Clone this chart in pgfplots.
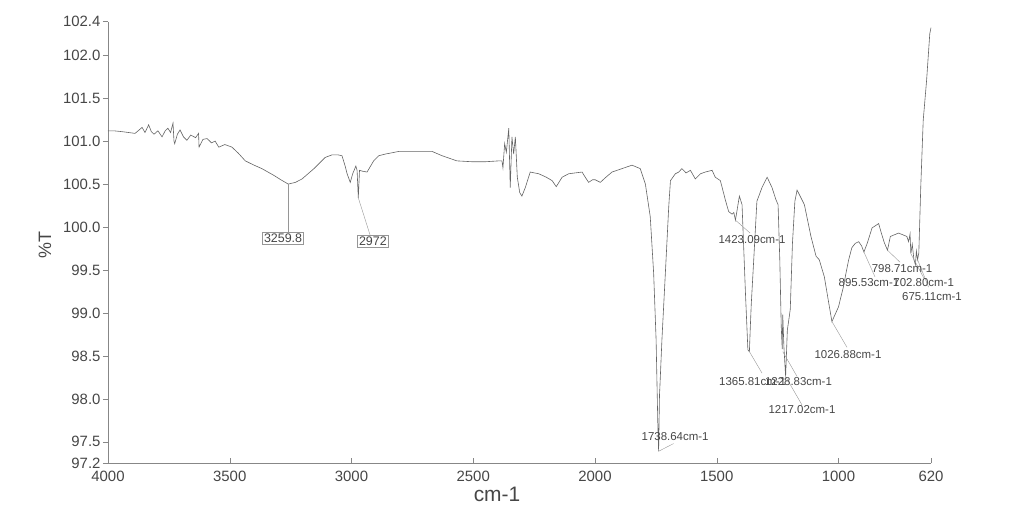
\documentclass[border=0pt]{standalone}
\usepackage{fontspec}
\setmainfont{Liberation Sans}
\usepackage{pgfplots}
\pgfplotsset{compat=1.18}
\definecolor{axisgray}{RGB}{135,135,135}
\definecolor{textgray}{RGB}{70,70,70}
\definecolor{specgray}{RGB}{100,100,100}
\definecolor{leadgray}{RGB}{150,150,150}

\begin{document}
\begin{tikzpicture}
\begin{axis}[
    at={(0,0)}, anchor=south west,
    scale only axis, width=823bp, height=441.6bp,
    x dir=reverse,
    xmin=620, xmax=4000, ymin=97.25, ymax=102.39,
    clip=false,
    axis line style={draw=none},
    xtick={4000,3500,3000,2500,2000,1500,1000,620},
    xticklabels={4000,3500,3000,2500,2000,1500,1000,620},
    ytick={97.25,97.5,98,98.5,99,99.5,100,100.5,101,101.5,102,102.39},
    yticklabels={97.2,97.5,98.0,98.5,99.0,99.5,100.0,100.5,101.0,101.5,102.0,102.4},
    xtick pos=lower, ytick pos=left,
    x tick style={axisgray, thin}, y tick style={axisgray, thin},
    xtick align=inside, ytick align=outside,
    major tick length=5bp,
    tick label style={font=\fontsize{15}{15}\selectfont, text=textgray},
    xticklabel style={yshift=-4bp},
    yticklabel style={xshift=1bp},
    xlabel={cm-1}, ylabel={\%T},
    xlabel style={at={(axis description cs:0.4727,-0.0702)}, anchor=center,
                  font=\fontsize{21}{21}\selectfont, text=textgray},
    ylabel style={at={(axis description cs:-0.0766,0.494)}, anchor=center,
                  font=\fontsize{18}{18}\selectfont, text=textgray},
]
\draw[axisgray, thin] (axis description cs:0,0) -- (axis description cs:1,0);
\draw[axisgray, thin] (axis description cs:0,0) -- (axis description cs:0,1);

\addplot[specgray, line width=0.6bp, mark=none] coordinates {
(4000,101.12) (3976,101.12) (3942,101.11) (3915,101.10) (3889,101.09) (3872,101.13)
(3860,101.16) (3848,101.10) (3833,101.19) (3822,101.11) (3811,101.08) (3795,101.12)
(3778,101.05) (3765,101.12) (3754,101.15) (3743,101.10) (3733,101.21) (3729,101.00)
(3726,100.97) (3715,101.08) (3704,101.13) (3690,101.05) (3676,101.01) (3660,101.07)
(3640,101.04) (3628,101.09) (3626,100.93) (3610,101.02) (3593,101.03) (3575,100.98)
(3560,101.00) (3545,100.93) (3520,100.96) (3491,100.93) (3465,100.86) (3436,100.77)
(3400,100.72) (3368,100.68) (3318,100.60) (3290,100.55) (3259.8,100.50) (3230,100.52)
(3203,100.56) (3154,100.68) (3108,100.81) (3080,100.84) (3055,100.84) (3039,100.83)
(3025,100.70) (3018,100.62) (3005,100.52) (2995,100.62) (2982,100.71) (2977,100.66)
(2972,100.34) (2967,100.66) (2955,100.65) (2936,100.64) (2909,100.77) (2888,100.83)
(2860,100.85) (2841,100.86) (2806,100.88) (2740,100.88) (2669,100.88) (2628,100.83)
(2567,100.77) (2505,100.76) (2450,100.76) (2395,100.77) (2382,100.77) (2378,100.69)
(2371,100.97) (2364,100.87) (2354,101.15) (2348,100.46) (2341,101.05) (2334,100.85)
(2327,101.05) (2319,100.58) (2309,100.40) (2300,100.36) (2286,100.46) (2266,100.64)
(2231,100.62) (2200,100.58) (2176,100.54) (2159,100.47) (2135,100.58) (2108,100.62)
(2081,100.63) (2053,100.64) (2040,100.58) (2026,100.52) (2010,100.55) (1999,100.55)
(1978,100.52) (1955,100.58) (1930,100.64) (1889,100.68) (1848,100.72) (1814,100.68)
(1793,100.50) (1773,100.12) (1759,99.46) (1749,98.69) (1742,97.72) (1738.64,97.39)
(1735,98.05) (1734,98.10) (1725,98.69) (1711,99.46) (1697,100.24) (1690,100.54)
(1670,100.62) (1656,100.64) (1643,100.68) (1626,100.63) (1608,100.66) (1588,100.56)
(1567,100.62) (1547,100.64) (1519,100.66) (1506,100.58) (1485,100.54) (1465,100.32)
(1451,100.18) (1437,100.15) (1430,100.17) (1423.09,100.08) (1415,100.22) (1407,100.36)
(1396,100.26) (1382,99.23) (1372,98.57) (1365.81,98.55) (1362,98.84) (1358,99.11)
(1348,99.62) (1335,100.30) (1314,100.46) (1293,100.58) (1273,100.46) (1257,100.32)
(1248,100.26) (1241,99.62) (1235,98.84) (1231,98.58) (1228.83,98.98) (1224,98.60)
(1217.02,98.26) (1210,98.80) (1206,98.88) (1198,99.04) (1189,99.81) (1179,100.30)
(1170,100.43) (1154,100.34) (1140,100.26) (1113,99.89) (1092,99.66) (1079,99.62)
(1058,99.42) (1042,99.15) (1026.88,98.90) (1019,98.95) (1000,99.07) (980,99.30)
(970,99.45) (958,99.62) (945,99.76) (931,99.81) (917,99.83) (905,99.78)
(895.53,99.71) (882,99.81) (862,99.99) (835,100.04) (824,99.93) (812,99.82)
(798.71,99.73) (787,99.89) (753,99.93) (719,99.89) (712,99.83) (706,99.92)
(702.8,99.69) (697,99.80) (690,99.62) (684,99.56) (680,99.72) (675.11,99.62)
(670,99.70) (662,100.47) (652,101.24) (638,101.71) (625,102.25) (620,102.32)
};

% peak labels
\begin{scope}[leadgray, thin]
\draw (axis cs:3259.8,100.50) -- (axis cs:3259.8,99.94);
\draw (axis cs:2972,100.34) -- (axis cs:2924,99.91);
\draw (axis cs:1738.64,97.39) -- (axis cs:1677,97.48);
\draw (axis cs:1423.09,100.08) -- (axis cs:1363,99.93);
\draw (axis cs:1365.81,98.55) -- (axis cs:1314,98.30);
\draw (axis cs:1228.83,98.55) -- (axis cs:1170,98.26);
\draw (axis cs:1217.02,98.26) -- (axis cs:1150,97.93);
\draw (axis cs:1026.88,98.90) -- (axis cs:965,98.60);
\draw (axis cs:895.53,99.71) -- (axis cs:850,99.42);
\draw (axis cs:798.71,99.73) -- (axis cs:747,99.59);
\draw (axis cs:702.8,99.69) -- (axis cs:650,99.41);
\draw (axis cs:675.11,99.62) -- (axis cs:630,99.30);
\end{scope}
\begin{scope}[every node/.style={text=textgray, inner sep=1bp, font=\fontsize{11.5}{11.5}\selectfont}]
\node[draw=leadgray, fill=white, anchor=north, inner sep=1.5bp, font=\fontsize{12.5}{12.5}\selectfont] at (axis cs:3281,99.94) {3259.8};
\node[draw=leadgray, fill=white, anchor=north, inner sep=1.5bp, font=\fontsize{12.5}{12.5}\selectfont] at (axis cs:2912,99.91) {2972};
\node at (axis cs:1671,97.56) {1738.64cm-1};
\node at (axis cs:1355,99.85) {1423.09cm-1};
\node[anchor=west] at (axis cs:1495,98.20) {1365.81cm-1};
\node[anchor=east] at (axis cs:1022,98.20) {1228.83cm-1};
\node at (axis cs:1150,97.87) {1217.02cm-1};
\node at (axis cs:961,98.52) {1026.88cm-1};
\node at (axis cs:739,99.52) {798.71cm-1};
\node[anchor=west] at (axis cs:1004,99.35) {895.53cm-1};
\node[anchor=east] at (axis cs:521,99.35) {702.80cm-1};
\node at (axis cs:616,99.19) {675.11cm-1};
\end{scope}
\end{axis}
\path[use as bounding box] (-108bp,-46.7bp) rectangle (923bp,463.3bp);
\end{tikzpicture}
\end{document}
